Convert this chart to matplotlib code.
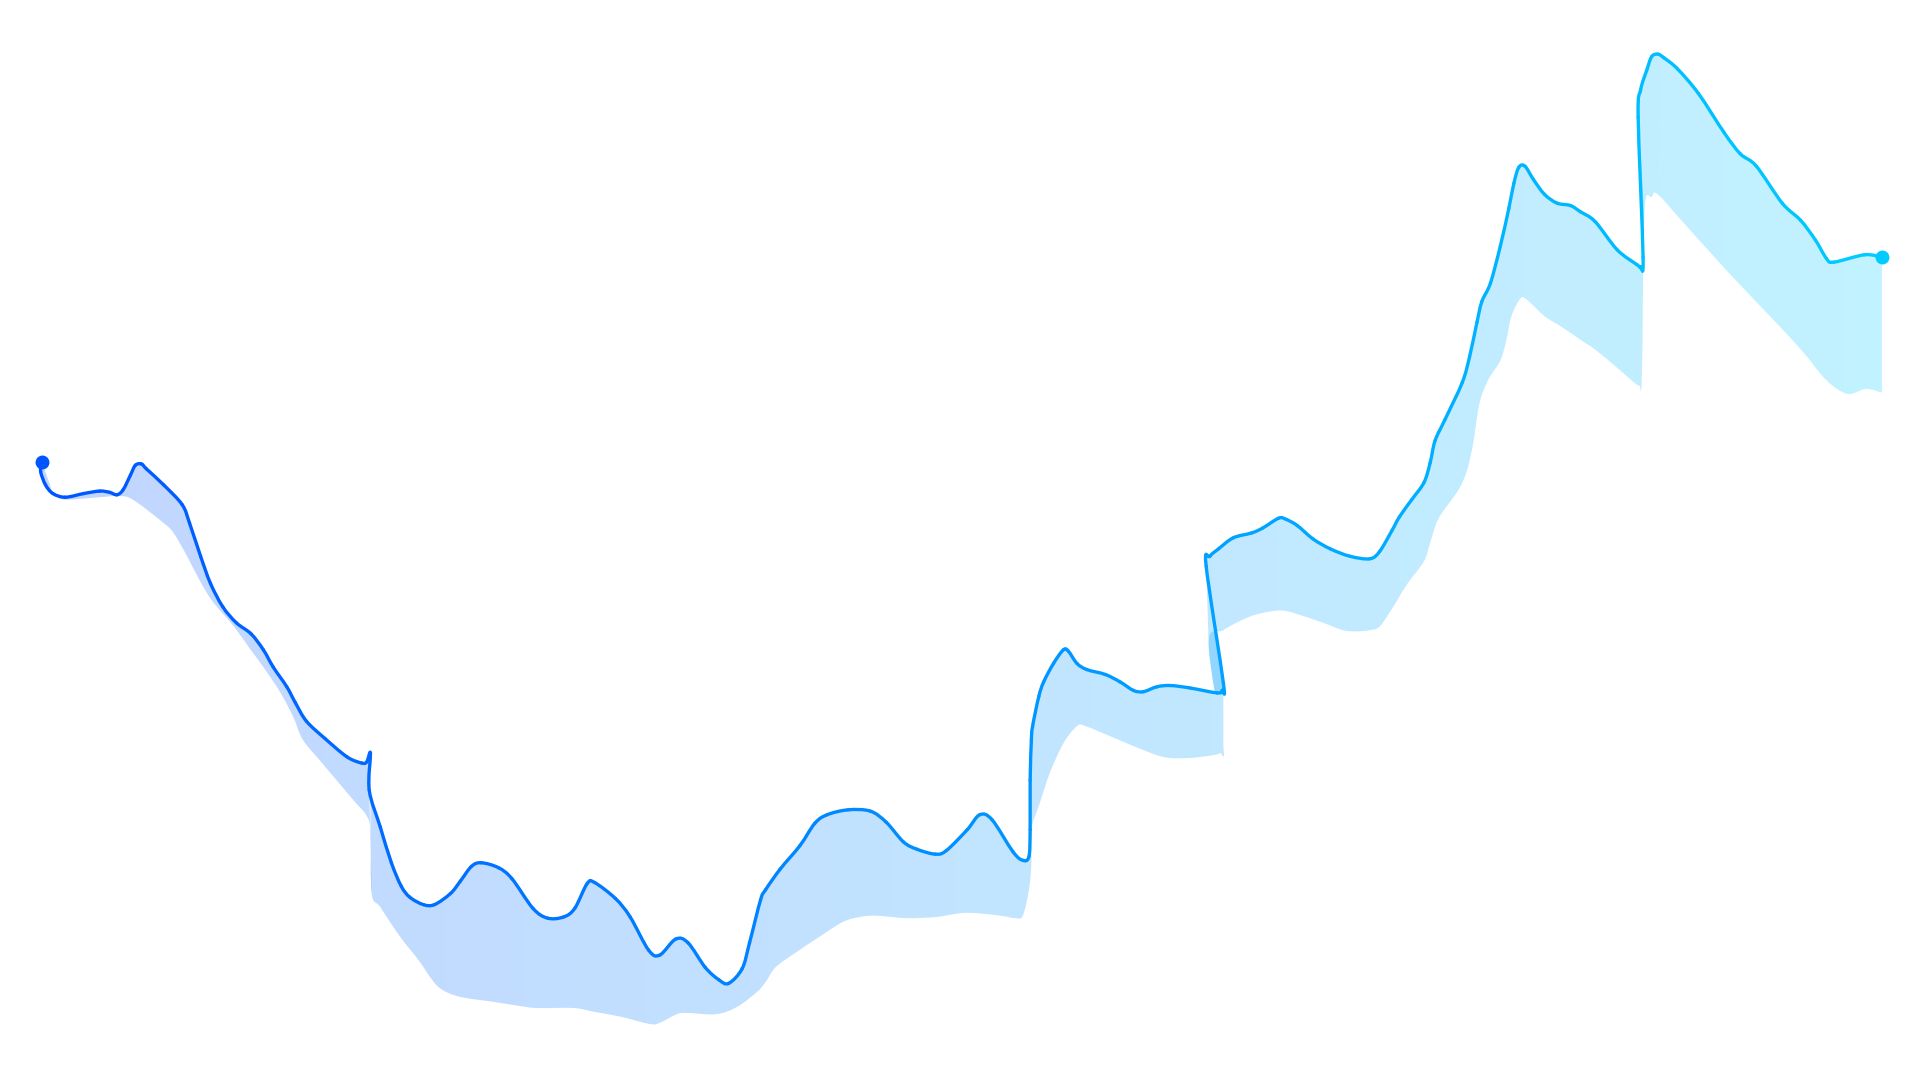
import numpy as np
import matplotlib
matplotlib.use("Agg")
import matplotlib.pyplot as plt
from matplotlib.path import Path
from matplotlib.patches import PathPatch
from matplotlib.colors import LinearSegmentedColormap

# Upper line, cut into pieces where the series jumps (x = position, v = value)
upper_a_x = [34, 33, 37, 43, 53, 68, 81, 89, 95, 100, 106, 110, 115, 119, 133, 148, 154, 163, 171, 181,
             192, 204, 214, 222, 233, 240, 249, 264, 282, 294, 298, 301]
upper_a_v = [505, 497, 486, 479, 476, 479, 481, 480, 478, 482, 494, 502, 503, 499, 486, 470, 455, 428, 406, 387,
             374, 365, 352, 338, 322, 309, 294, 280, 265, 260, 261, 268]

upper_b_x = [300, 309, 318, 326, 333, 344, 353, 366, 374, 383, 391, 405, 416, 433, 445, 458, 467, 477, 483, 500,
             512, 527, 536, 549, 559, 573, 584, 592, 603, 609, 618, 622, 634, 650, 662, 672, 689, 707, 720, 734,
             745, 760, 769, 786, 796, 806, 823, 831, 836, 837, 837, 838, 839, 844, 848, 856, 864, 868, 875, 883,
             898, 910, 921, 929, 940, 951, 967, 989, 993, 994]
upper_b_v = [238, 208, 179, 160, 151, 145, 145, 154, 164, 176, 179, 175, 166, 142, 134, 135, 142, 162, 163, 150,
             135, 108, 104, 117, 114, 94, 84, 81, 93, 114, 149, 157, 174, 193, 211, 218, 222, 221, 212, 196,
             190, 186, 189, 206, 218, 214, 188, 181, 184, 206, 246, 279, 290, 314, 326, 341, 352, 351, 341, 336,
             332, 326, 319, 318, 322, 323, 321, 317, 319, 325]

upper_c_x = [980, 983, 990, 1002, 1017, 1026, 1039, 1045, 1054, 1067, 1081, 1097, 1113, 1121, 1131, 1137, 1147,
             1157, 1162, 1166, 1174, 1188, 1194, 1200, 1204, 1211, 1219, 1226, 1230, 1234, 1239, 1246, 1255,
             1265, 1276, 1284, 1296, 1314, 1330, 1333, 1335]
upper_c_v = [420, 428, 434, 443, 447, 451, 459, 458, 453, 442, 434, 428, 426, 432, 449, 460, 474,
             488, 504, 522, 539, 569, 590, 618, 635, 650, 680, 711, 731, 744, 745, 734, 722,
             715, 713, 708, 700, 677, 665, 663, 671]

upper_d_x = [1331, 1333, 1338, 1342, 1347, 1352, 1363, 1380, 1401, 1414, 1427, 1448, 1463, 1475, 1484, 1490,
             1515, 1529]
upper_d_v = [785, 807, 823, 834, 836, 833, 824, 804, 772, 755, 745, 715, 701, 685, 670, 667, 673, 671]

# Lower edge of the band, same pieces
lower_a_x = [43, 47, 54, 81, 96, 108, 133, 141, 152, 163, 173, 190, 203, 214, 228, 238, 246, 260, 271, 287,
             298, 301]
lower_a_v = [479, 476, 474, 476, 477, 474, 455, 447, 428, 407, 391, 371, 353, 338, 317, 298, 279, 262, 249, 230,
             217, 203]

lower_b_x = [302, 309, 325, 340, 351, 359, 374, 401, 420, 436, 466, 482, 504, 528, 536, 550, 558, 582, 599, 615,
             622, 630, 645, 666, 685, 699, 712, 737, 761, 780, 794, 813, 825, 831, 836, 838, 838, 845, 853, 864,
             875, 882, 904, 923, 945, 964, 983, 991, 994]
lower_b_v = [154, 143, 119, 100, 84, 76, 70, 66, 63, 61, 61, 58, 54, 48, 49, 56, 57, 56, 62, 74,
             82, 94, 105, 119, 131, 135, 136, 134, 135, 138, 138, 136, 134, 136, 157, 179, 206, 228, 252, 276,
             290, 290, 281, 273, 265, 264, 266, 268, 273]

lower_c_x = [982, 994, 1013, 1026, 1040, 1051, 1075, 1091, 1102, 1113, 1121, 1132, 1143, 1157, 1162, 1169, 1185,
             1192, 1197, 1202, 1209, 1219, 1224, 1228, 1235, 1240, 1255, 1268, 1284, 1296, 1313, 1328, 1332, 1334]
lower_c_v = [357, 368, 378, 382, 384, 382, 374, 368, 367, 368, 371, 387, 405, 424, 439, 459, 482,
             498, 520, 552, 571, 587, 604, 623, 637, 637, 623, 615, 604, 596, 582, 569, 567, 574]

lower_d_x = [1336, 1342, 1347, 1367, 1404, 1442, 1465, 1484, 1501, 1516, 1529]
lower_d_v = [707, 720, 722, 700, 659, 619, 594, 571, 560, 564, 561]

upper_pieces_x = [upper_a_x, upper_b_x, upper_c_x, upper_d_x]
upper_pieces_v = [upper_a_v, upper_b_v, upper_c_v, upper_d_v]
lower_pieces_x = [lower_a_x, lower_b_x, lower_c_x, lower_d_x]
lower_pieces_v = [lower_a_v, lower_b_v, lower_c_v, lower_d_v]

COLOR_START = "#0055ff"
COLOR_END = "#00ccff"
FILL_ALPHA = 0.245


def smooth(x, y):
    # catmull-rom through the points -> cubic bezier control points per segment
    p = np.column_stack([x, y]).astype(float)
    prev = np.vstack([p[:1], p[:-1]])
    nxt = np.vstack([p[1:], p[-1:]])
    tang = (nxt - prev) / 6.0
    return p[:-1], p[:-1] + tang[:-1], p[1:] - tang[1:], p[1:]


def piece_ranges(lengths):
    ends = np.cumsum(lengths)
    starts = ends - np.array(lengths)
    out = []
    for k in range(len(lengths)):
        s = starts[k] - 1 if k > 0 else 0
        e = ends[k] if k < len(lengths) - 1 else ends[k] - 1
        out.append((int(s), int(e)))
    return out


def curve_verts(seg, s, e, reverse=False):
    p0, c1, c2, p1 = seg
    if not reverse:
        verts = [p0[s]]
        for i in range(s, e):
            verts += [c1[i], c2[i], p1[i]]
    else:
        verts = [p1[e - 1]]
        for i in range(e - 1, s - 1, -1):
            verts += [c2[i], c1[i], p0[i]]
    return verts


upper_x = sum(upper_pieces_x, [])
upper_v = sum(upper_pieces_v, [])
lower_x = sum(lower_pieces_x, [])
lower_v = sum(lower_pieces_v, [])

up_seg = smooth(upper_x, upper_v)
lo_seg = smooth(lower_x, lower_v)
up_ranges = piece_ranges([len(p) for p in upper_pieces_x])
lo_ranges = piece_ranges([len(p) for p in lower_pieces_x])

cmap = LinearSegmentedColormap.from_list("band", [COLOR_START, COLOR_END])
x0, x1 = upper_x[0], upper_x[-1]

fig = plt.figure(figsize=(19.2, 10.8), dpi=100)
ax = fig.add_axes([0, 0, 1, 1])
ax.set_axis_off()

# gradient fill of the band, one patch per piece (overlaps at the jumps get darker)
xs = np.linspace(0, 1560, 1561)
ramp = np.clip((xs - x0) / (x1 - x0), 0, 1).reshape(1, -1)
for (us, ue), (ls, le) in zip(up_ranges, lo_ranges):
    top = curve_verts(up_seg, us, ue)
    bot = curve_verts(lo_seg, ls, le, reverse=True)
    verts = top + bot + [top[0]]
    codes = ([Path.MOVETO] + [Path.CURVE4] * (len(top) - 1) + [Path.LINETO]
             + [Path.CURVE4] * (len(bot) - 1) + [Path.CLOSEPOLY])
    patch = PathPatch(Path(verts, codes), facecolor="none", edgecolor="none", transform=ax.transData)
    ax.add_patch(patch)
    im = ax.imshow(ramp, cmap=cmap, vmin=0, vmax=1, extent=(0, 1560, 0, 880), aspect="auto",
                   origin="lower", alpha=FILL_ALPHA, interpolation="bilinear", zorder=1)
    im.set_clip_path(patch)

# the line itself, coloured along x
p0, c1, c2, p1 = up_seg
for i in range(len(p0)):
    xm = (p0[i][0] + p1[i][0]) / 2
    col = cmap(np.clip((xm - x0) / (x1 - x0), 0, 1))
    seg_path = Path([p0[i], c1[i], c2[i], p1[i]], [Path.MOVETO, Path.CURVE4, Path.CURVE4, Path.CURVE4])
    ax.add_patch(PathPatch(seg_path, facecolor="none", edgecolor=col, lw=2.4,
                           capstyle="round", joinstyle="round", zorder=3))

ax.plot([upper_x[0]], [upper_v[0]], "o", color=COLOR_START, ms=9, zorder=4)
ax.plot([upper_x[-1]], [upper_v[-1]], "o", color=COLOR_END, ms=9, zorder=4)

ax.set_xlim(0, 1560)
ax.set_ylim(2.5, 880)

fig.savefig("out.png", dpi=100)
